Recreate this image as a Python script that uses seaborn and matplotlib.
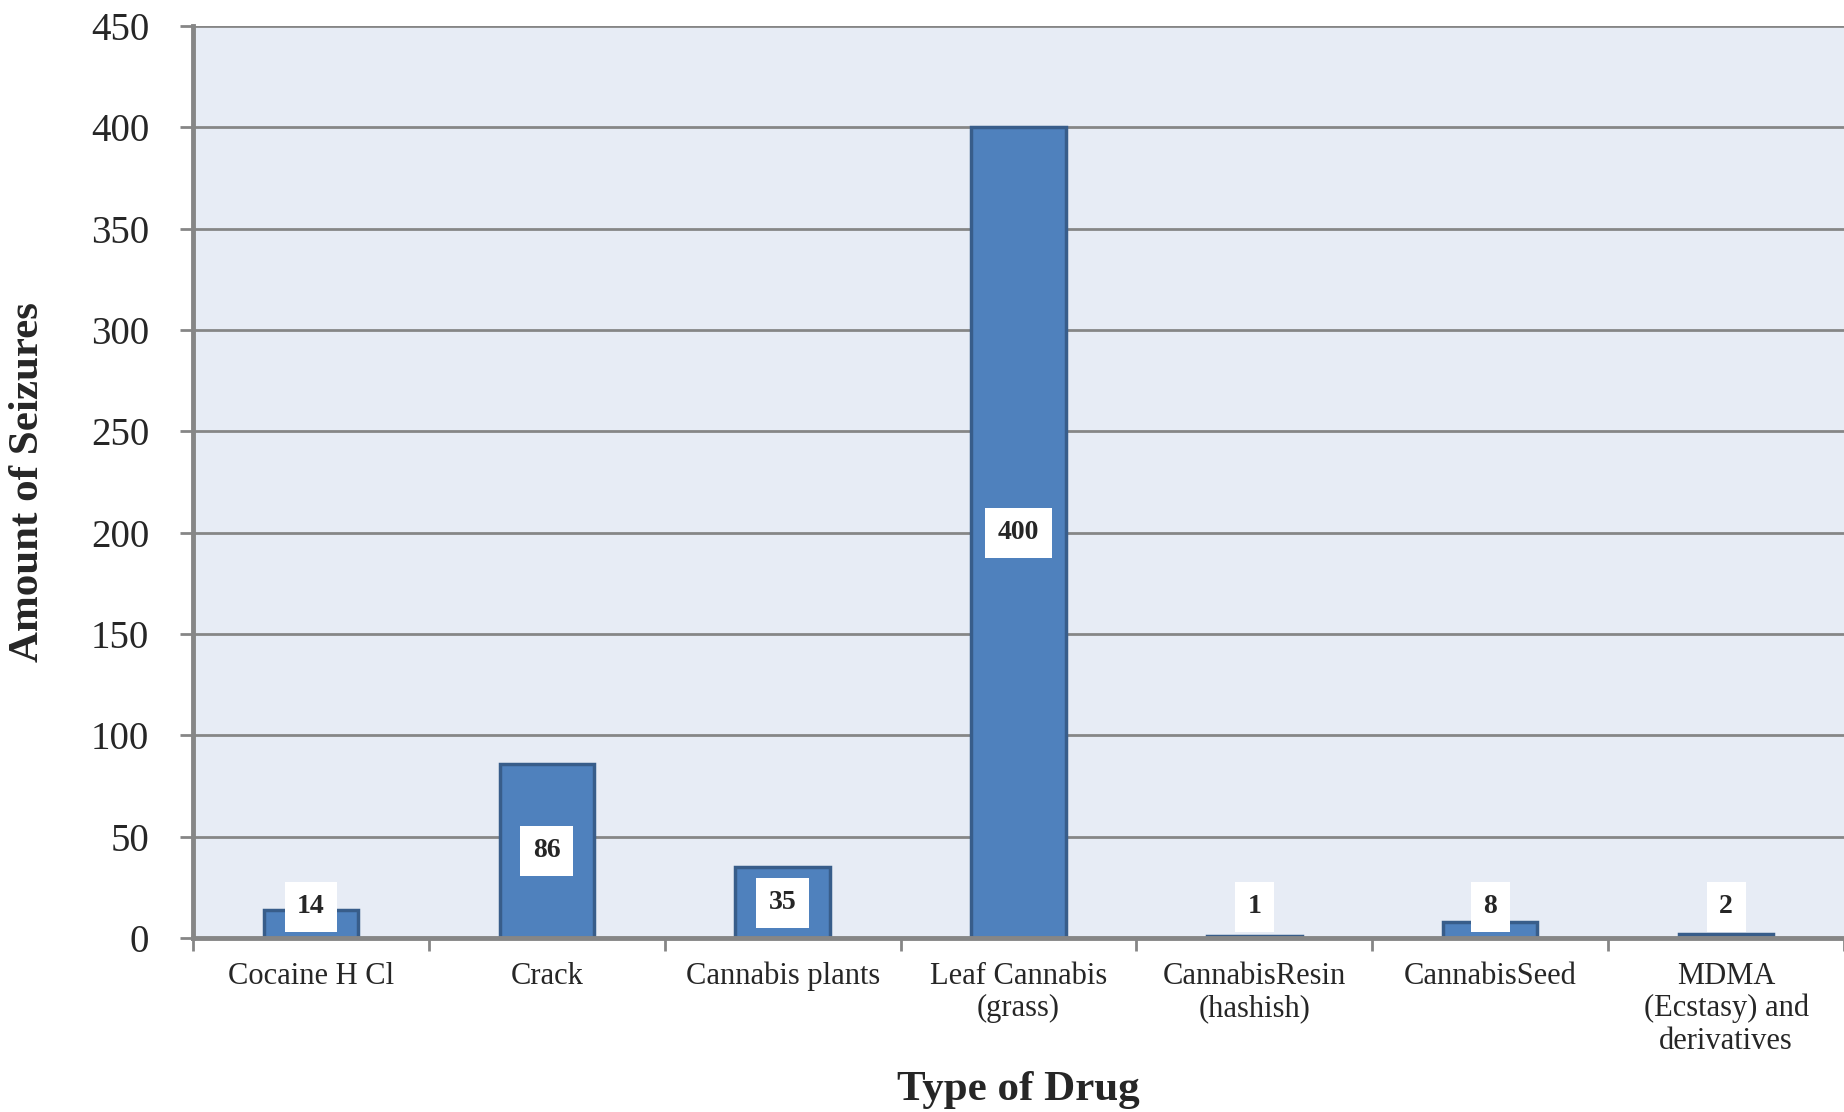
import numpy as np
import pandas as pd
import matplotlib
matplotlib.use("Agg")
import matplotlib.pyplot as plt
import seaborn as sns

categories = ["Cocaine H Cl", "Crack", "Cannabis plants", "Leaf Cannabis\n(grass)",
              "CannabisResin\n(hashish)", "CannabisSeed", "MDMA\n(Ecstasy) and\nderivatives"]
seizures = [14, 86, 35, 400, 1, 8, 2]
y_ticks = [0, 50, 100, 150, 200, 250, 300, 350, 400, 450]

df = pd.DataFrame({"drug": categories, "seizures": seizures})

sns.set_style("white", {"axes.facecolor": "#E7ECF5"})
plt.rcParams["font.family"] = ["Liberation Serif", "DejaVu Serif"]

fig = plt.figure(figsize=(18.44, 11.12), dpi=100)
ax = fig.add_axes([193 / 1844, 1 - 938 / 1112, 1 - 193 / 1844, (938 - 26) / 1112])

sns.barplot(data=df, x="drug", y="seizures", ax=ax, width=0.4, color="#4F81BD",
            edgecolor="#385D8A", linewidth=2.5, saturation=1)

ax.set_ylim(0, 450)
ax.set_xlim(-0.5, len(categories) - 0.5)
ax.set_yticks(y_ticks)
ax.set_yticklabels([str(t) for t in y_ticks], fontsize=28)
ax.tick_params(axis="y", length=9.5, width=2, color="#868686", pad=22, left=True)

ax.set_xticks(np.arange(-0.5, len(categories), 1))
ax.set_xticklabels([])
ax.set_xticks(np.arange(len(categories)), minor=True)
ax.set_xticklabels(categories, minor=True, fontsize=22, linespacing=1.15, va="top")
ax.tick_params(axis="x", which="major", length=9, width=2, color="#868686", bottom=True)
ax.tick_params(axis="x", which="minor", length=0, pad=17)

ax.set_axisbelow(True)
ax.yaxis.grid(True, color="#868686", linewidth=2)
ax.xaxis.grid(False)
for s in ["top", "right"]:
    ax.spines[s].set_visible(False)
ax.spines["left"].set_color("#868686")
ax.spines["left"].set_linewidth(3.5)
ax.spines["bottom"].set_color("#868686")
ax.spines["bottom"].set_linewidth(3.5)

ax.set_xlabel("Type of Drug", fontsize=31, fontweight="bold", va="center")
ax.xaxis.set_label_coords(0.5, -0.167)
ax.set_ylabel("Amount of Seizures", fontsize=31, fontweight="bold", va="center")
ax.yaxis.set_label_coords(-0.1, 0.5)

for i, v in enumerate(seizures):
    ax.text(i, max(v / 2, 15.5), str(v), ha="center", va="center", fontsize=20,
            fontweight="bold",
            bbox=dict(boxstyle="square,pad=0.45", facecolor="white", edgecolor="none"))

fig.savefig("out.png", dpi=100)
